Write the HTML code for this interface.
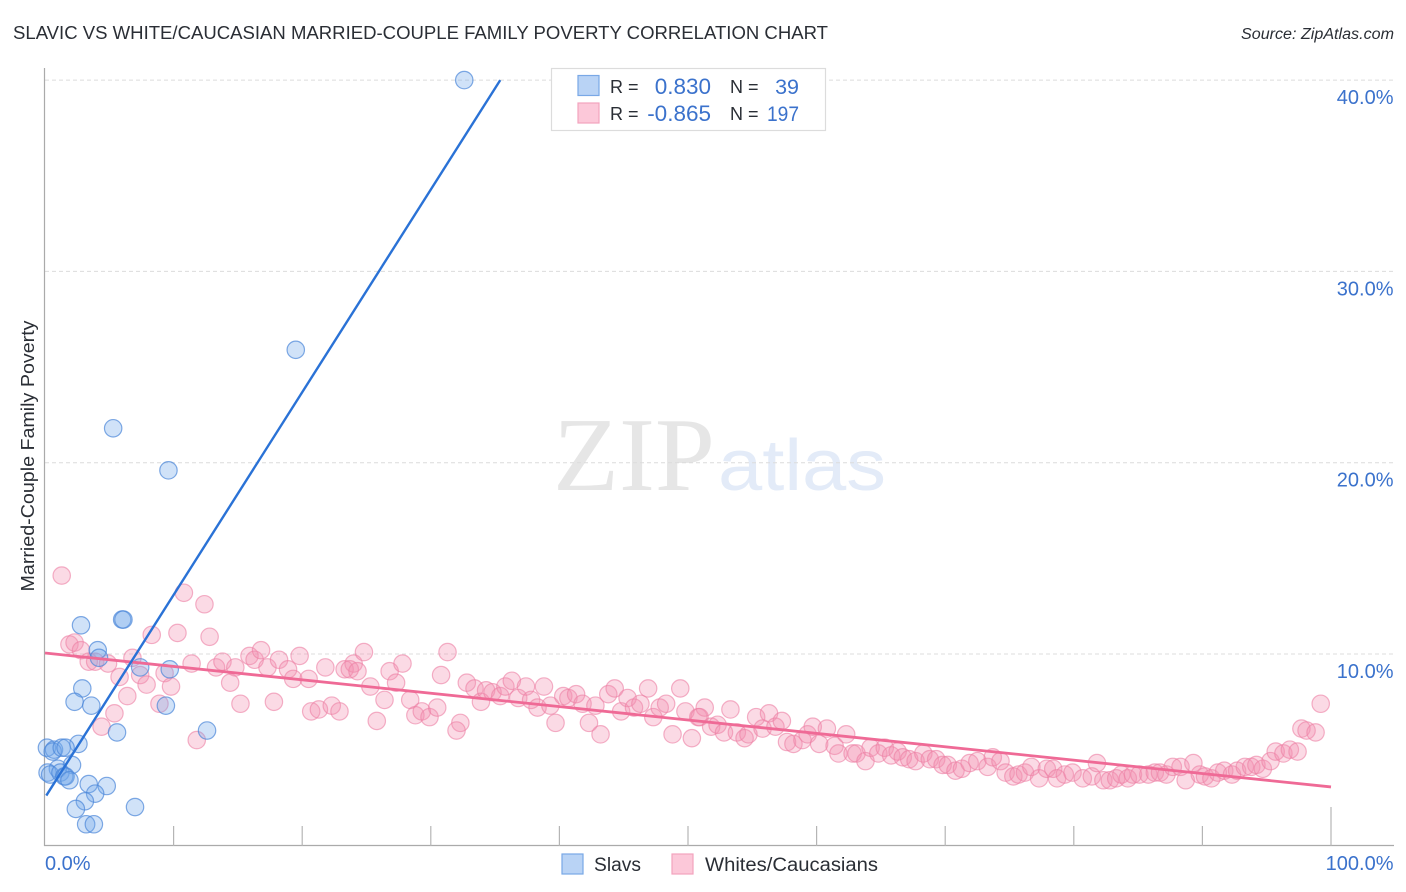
<!DOCTYPE html>
<html>
<head>
<meta charset="utf-8">
<title>Slavic vs White/Caucasian Married-Couple Family Poverty Correlation Chart</title>
<style>
html,body{margin:0;padding:0;background:#fff;}
svg{display:block;font-family:"Liberation Sans",sans-serif;}
</style>
</head>
<body>
<svg id="chart" xmlns="http://www.w3.org/2000/svg" width="1406" height="892" viewBox="0 0 1406 892">
  <text x="13" y="39" font-size="18.5" fill="#2a2e35" textLength="815" lengthAdjust="spacingAndGlyphs">SLAVIC VS WHITE/CAUCASIAN MARRIED-COUPLE FAMILY POVERTY CORRELATION CHART</text>
  <text x="1394" y="39" font-size="15.5" font-style="italic" fill="#2a2e35" text-anchor="end" textLength="153" lengthAdjust="spacingAndGlyphs">Source: ZipAtlas.com</text>
  <g id="watermark">
    <text x="553" y="490" font-family="'Liberation Serif',serif" font-size="105" fill="#e6e6e6" textLength="162" lengthAdjust="spacingAndGlyphs">ZIP</text>
    <text x="718" y="490" font-size="72" fill="#e3ebf8" textLength="168" lengthAdjust="spacingAndGlyphs">atlas</text>
  </g>
  <g id="grid"></g>
  <g id="axes"></g>
  <g id="pink-points"></g>
  <g id="blue-points"></g>
  <g id="trends"></g>
  <text transform="translate(34,456) rotate(-90)" font-size="18.5" fill="#2a2e35" text-anchor="middle" textLength="271" lengthAdjust="spacingAndGlyphs">Married-Couple Family Poverty</text>
  <g>
    <rect x="551.5" y="68.5" width="274" height="62" fill="#fff" stroke="#dcdcdc" stroke-width="1.2"/>
    <rect x="578" y="75.5" width="21" height="20" fill="#b9d3f5" stroke="#79a8e6" stroke-width="1.2"/>
    <rect x="578" y="103" width="21" height="20" fill="#fcc8d9" stroke="#f3a3bd" stroke-width="1.2"/>
    <text x="610" y="93" font-size="18" fill="#2a2e35">R =</text>
    <text x="711" y="94" font-size="22.5" fill="#3b72cc" text-anchor="end">0.830</text>
    <text x="730" y="93" font-size="18" fill="#2a2e35">N =</text>
    <text x="799" y="94" font-size="21.5" fill="#3b72cc" text-anchor="end">39</text>
    <text x="610" y="120" font-size="18" fill="#2a2e35">R =</text>
    <text x="711" y="121" font-size="22.5" fill="#3b72cc" text-anchor="end">-0.865</text>
    <text x="730" y="120" font-size="18" fill="#2a2e35">N =</text>
    <text x="799" y="121" font-size="21.5" fill="#3b72cc" text-anchor="end" textLength="32" lengthAdjust="spacingAndGlyphs">197</text>
  </g>
  <g>
    <rect x="562" y="854" width="21" height="20" fill="#b9d3f5" stroke="#79a8e6" stroke-width="1.2"/>
    <text x="594" y="871" font-size="19" fill="#2a2e35" textLength="47" lengthAdjust="spacingAndGlyphs">Slavs</text>
    <rect x="672" y="854" width="21" height="20" fill="#fcc8d9" stroke="#f3a3bd" stroke-width="1.2"/>
    <text x="705" y="871" font-size="19" fill="#2a2e35" textLength="173" lengthAdjust="spacingAndGlyphs">Whites/Caucasians</text>
  </g>
</svg>
<script>
const xTickValues = [0,10,20,30,40,50,60,70,80,90,100];
const yTickValues = [10,20,30,40];
const yTickLabels = ["10.0%","20.0%","30.0%","40.0%"];
const xEndValues = [0,100];
const xEndLabels = ["0.0%","100.0%"];

const slavsX = [32.6,19.5,5.3,9.6,2.8,6.0,6.1,4.1,4.2,7.4,9.7,2.9,2.3,3.6,9.4,12.6,5.6,2.6,0.15,0.7,0.6,1.3,1.6,2.1,1.0,0.2,0.4,1.2,1.5,1.6,1.9,3.4,4.8,3.9,3.1,2.4,7.0,3.2,3.8];
const slavsY = [40.0,25.9,21.8,19.6,11.5,11.8,11.8,10.2,9.8,9.3,9.2,8.2,7.5,7.3,7.3,6.0,5.9,5.3,5.1,5.0,4.9,5.1,5.1,4.2,4.0,3.8,3.7,3.8,3.6,3.6,3.4,3.2,3.1,2.7,2.3,1.9,2.0,1.1,1.1];

const whitesX = [1.3,10.8,12.4,8.3,10.3,12.8,1.9,2.3,2.8,3.4,3.9,4.9,6.8,5.8,7.4,7.9,9.3,9.8,6.4,8.9,5.4,4.4,11.4,13.3,13.8,14.8,14.4,15.2,15.9,16.3,16.8,17.3,18.2,18.9,19.8,19.3,20.5,17.8,11.8,20.7,21.3,22.3,22.9,21.8,23.3,24.0,23.7,24.3,24.8,25.3,26.8,27.8,27.3,26.4,25.8,28.4,31.3,30.8,28.8,29.3,29.9,30.5,32.3,32.0,32.8,33.4,33.9,34.3,34.8,35.4,35.8,36.3,36.8,37.4,37.8,38.3,38.8,39.3,39.7,40.3,40.7,41.3,41.8,42.8,42.3,43.2,43.8,44.3,44.8,45.3,45.8,46.3,46.9,47.3,47.8,48.3,49.4,48.8,49.8,50.3,50.8,51.3,53.3,50.9,51.8,52.3,52.8,53.8,54.4,54.7,55.3,56.3,55.8,56.8,57.3,57.7,58.2,58.9,59.3,59.7,60.2,60.8,61.4,61.7,62.3,62.8,63.1,63.8,64.2,64.8,65.3,65.8,66.3,66.7,67.2,67.7,68.3,68.8,69.3,69.8,70.2,70.8,71.3,71.9,72.5,73.3,73.7,74.3,74.7,75.3,75.7,76.2,76.7,77.3,77.9,78.4,78.7,79.3,79.9,80.7,81.4,81.8,82.3,82.8,83.3,83.7,84.2,84.6,85.1,85.8,86.3,86.7,87.2,87.7,88.3,88.7,89.3,89.8,90.2,90.7,91.2,91.7,92.3,92.7,93.3,93.8,94.2,94.7,95.3,95.7,96.3,96.8,97.4,97.7,98.1,98.8,99.2];
const whitesY = [14.1,13.2,12.6,11.0,11.1,10.9,10.5,10.6,10.2,9.6,9.6,9.5,9.8,8.8,8.9,8.4,9.0,8.3,7.8,7.4,6.9,6.2,9.5,9.3,9.6,9.3,8.5,7.4,9.9,9.7,10.2,9.3,9.7,9.2,9.9,8.7,8.7,7.5,5.5,7.0,7.1,7.3,7.0,9.3,9.2,9.5,9.2,9.1,10.1,8.3,9.1,9.5,8.5,7.6,6.5,7.6,10.1,8.9,6.8,7.0,6.7,7.2,6.4,6.0,8.5,8.2,7.5,8.1,8.0,7.8,8.3,8.6,7.7,8.3,7.6,7.2,8.3,7.3,6.4,7.8,7.7,7.9,7.4,7.3,6.4,5.8,7.9,8.2,7.0,7.7,7.2,7.4,8.2,6.7,7.2,7.4,8.2,5.8,7.0,5.6,6.7,7.2,7.1,6.7,6.2,6.3,5.9,5.9,5.6,5.8,6.7,6.9,6.1,6.2,6.5,5.4,5.3,5.5,5.8,6.2,5.3,6.1,5.2,4.8,5.8,4.8,4.8,4.4,5.1,4.8,5.1,4.7,4.9,4.6,4.5,4.4,4.8,4.5,4.5,4.2,4.2,3.9,4.0,4.3,4.4,4.1,4.6,4.4,3.8,3.6,3.7,3.8,4.1,3.5,4.0,4.0,3.5,3.7,3.8,3.5,3.6,4.3,3.4,3.4,3.5,3.7,3.5,3.7,3.7,3.7,3.8,3.8,3.7,4.1,4.1,3.4,4.3,3.7,3.6,3.5,3.8,3.9,3.7,3.9,4.1,4.1,4.2,4.0,4.4,4.9,4.8,5.0,4.9,6.1,6.0,5.9,7.4];

const slavsTrendX = [0.1,35.4];
const slavsTrendY = [2.6,40.0];
const whitesTrendX = [0,100];
const whitesTrendY = [10.05,3.05];

const NS = 'http://www.w3.org/2000/svg';
function xScale(v){ return 45 + v * 12.86; }
function yScale(v){ return 845.3 - v * 19.13; }
function make(tag, attrs, parent){
  const el = document.createElementNS(NS, tag);
  for (const k in attrs) el.setAttribute(k, attrs[k]);
  parent.appendChild(el);
  return el;
}

const grid = document.getElementById('grid');
const axes = document.getElementById('axes');

yTickValues.forEach(function(v, i){
  const line = make('line', {x1:45, x2:1394, y1:yScale(v), y2:yScale(v), stroke:'#dcdcdc', 'stroke-width':1, 'stroke-dasharray':'4 3'}, grid);
  
  
  const label = make('text', {x:1393.5, y:yScale(v)+24, 'font-size':20, fill:'#3b72cc', 'text-anchor':'end'}, axes);
  label.textContent = yTickLabels[i];
  
  
});

const yAxisLine = make('line', {x1:44.5, x2:44.5, y1:68, y2:846, stroke:'#aaaaaa', 'stroke-width':1.2}, axes);


const xAxisLine = make('line', {x1:44, x2:1394, y1:845.5, y2:845.5, stroke:'#aaaaaa', 'stroke-width':1.2}, axes);



xTickValues.forEach(function(v){
  if (v === 0) return;
  const top = v === 100 ? 807 : 826;
  const tick = make('line', {x1:xScale(v), x2:xScale(v), y1:top, y2:846, stroke:'#b5b5b5', 'stroke-width':1.2}, axes);
  
  
});

xEndValues.forEach(function(v, i){
  const anchor = i === 0 ? 'start' : 'end';
  const px = i === 0 ? xScale(v) : xScale(v) + 62.5;
  const label = make('text', {x:px, y:870, 'font-size':20, fill:'#3b72cc', 'text-anchor':anchor}, axes);
  label.textContent = xEndLabels[i];
  
  
});

const pinkGroup = document.getElementById('pink-points');
whitesX.forEach(function(v, i){
  const c = make('circle', {cx:xScale(v), cy:yScale(whitesY[i]), r:8.7, fill:'#f48fb1', 'fill-opacity':0.33, stroke:'#ec7fa3', 'stroke-opacity':0.6, 'stroke-width':1.2}, pinkGroup);
  
  
});

const blueGroup = document.getElementById('blue-points');
slavsX.forEach(function(v, i){
  const c = make('circle', {cx:xScale(v), cy:yScale(slavsY[i]), r:8.7, fill:'#6fa8ea', 'fill-opacity':0.33, stroke:'#4a86d8', 'stroke-opacity':0.7, 'stroke-width':1.2}, blueGroup);
  
  
});

const trends = document.getElementById('trends');
const whitesLine = make('line', {x1:xScale(whitesTrendX[0]), y1:yScale(whitesTrendY[0]), x2:xScale(whitesTrendX[1]), y2:yScale(whitesTrendY[1]), stroke:'#ef6a96', 'stroke-width':2.8}, trends);


const slavsLine = make('line', {x1:xScale(slavsTrendX[0]), y1:yScale(slavsTrendY[0]), x2:xScale(slavsTrendX[1]), y2:yScale(slavsTrendY[1]), stroke:'#2a72d6', 'stroke-width':2.4}, trends);


</script>
</body>
</html>
